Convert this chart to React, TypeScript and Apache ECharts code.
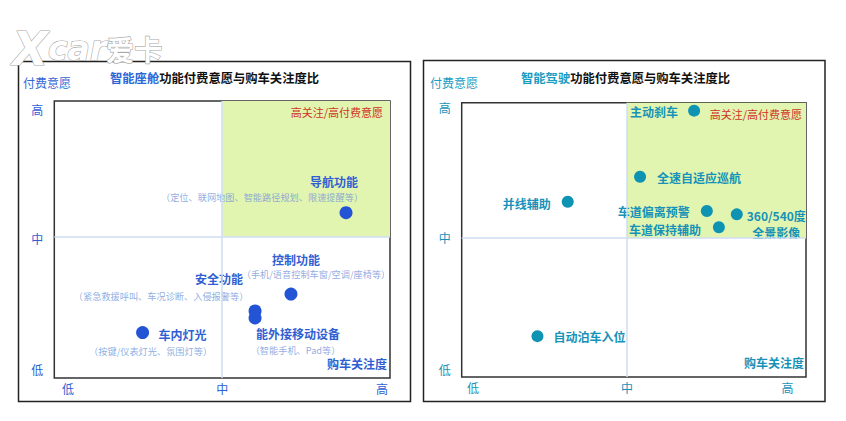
import React, { useEffect, useRef } from "react";
import * as echarts from "echarts";

// ---- data ----
const levelLabels = ["低", "中", "高"];

const cabinNames = ["导航功能", "控制功能", "安全功能", "能外接移动设备", "车内灯光"];
const cabinNotes = [
  "（定位、联网地图、智能路径规划、限速提醒等）",
  "（手机/语音控制车窗/空调/座椅等）",
  "（紧急救援呼叫、车况诊断、入侵报警等）",
  "（智能手机、Pad等）",
  "（按键/仪表灯光、氛围灯等）",
];
const cabinAttention = [86.9, 70.5, 59.8, 59.8, 26.3];
const cabinWillingness = [59.7, 30.3, 24.2, 21.7, 16.4];
const cabinMid = [50, 51];
const cabinXTicks = [4.1, 50, 97.6];
const cabinYTicks = [3.2, 50.5, 97.1];

const drivingNames = ["主动刹车", "全速自适应巡航", "并线辅助", "车道偏离预警", "360/540度\n全景影像", "车道保持辅助", "自动泊车入位"];
const drivingAttention = [67.5, 51.8, 30.8, 71.2, 79.9, 74.7, 22.0];
const drivingWillingness = [97.1, 73.0, 63.9, 60.5, 59.3, 54.6, 14.9];
const drivingMid = [48, 50.8];
const drivingXTicks = [3.3, 48, 94.6];
const drivingYTicks = [2.9, 50.7, 98.1];

// ---- layout (label offsets relative to point centre) ----
const cabinMainOffsets = [[-12, -31], [5, -35], [-36, -32], [43, 16], [40, 2]];
const cabinNoteOffsets = [[-84, -16], [25, -20], [-94, -15], [40.5, 32], [8, 18]];
const drivingOffsets = [[-40, 1], [59, 0.6], [-41, 1.6], [-53, 0.7], [39.5, 9.5], [-54, 2], [52, 0.7]];

const FONT = "'Noto Sans CJK SC', 'Noto Sans', sans-serif";
const BLUE = "#2454d6";
const BLUE_TEXT = "#2f5fd2";
const BLUE_NOTE = "#7497da";
const TEAL = "#0f93b3";
const TEAL_TEXT = "#1792b8";
const RED = "#d0321f";
const GREEN = "#e2f5b0";
const MIDLINE = "#cedcf2";

function nearestLabel(ticks: number[]) {
  return (v: number) => {
    let best = 0;
    ticks.forEach((t, i) => {
      if (Math.abs(t - v) < Math.abs(ticks[best] - v)) best = i;
    });
    return levelLabels[best];
  };
}

function axes(gridIndex: number, xt: number[], yt: number[], color: string) {
  const common = {
    gridIndex,
    type: "value" as const,
    min: 0,
    max: 100,
    splitLine: { show: false },
    axisLine: { show: false },
    axisTick: { show: false },
  };
  return {
    x: {
      ...common,
      axisLabel: {
        customValues: xt,
        formatter: nearestLabel(xt),
        color,
        fontSize: 12,
        fontFamily: FONT,
        margin: 4,
      },
    },
    y: {
      ...common,
      axisLabel: {
        customValues: yt,
        formatter: nearestLabel(yt),
        color,
        fontSize: 12,
        fontFamily: FONT,
        margin: 11,
      },
    },
  };
}

function quadrant(mid: number[]) {
  return {
    markArea: {
      silent: true,
      itemStyle: { color: GREEN },
      data: [[{ xAxis: mid[0], yAxis: mid[1] }, { xAxis: 100, yAxis: 100 }]],
    },
    markLine: {
      silent: true,
      symbol: "none",
      label: { show: false },
      lineStyle: { color: MIDLINE, width: 1.5, type: "solid" },
      data: [{ xAxis: mid[0] }, { yAxis: mid[1] }],
    },
  };
}

export default function App() {
  const ref = useRef<HTMLDivElement>(null);
  useEffect(() => {
    if (!ref.current) return;
    const chart = echarts.init(ref.current, undefined, { renderer: "svg" });
    const a1 = axes(0, cabinXTicks, cabinYTicks, BLUE_TEXT);
    const a2 = axes(1, drivingXTicks, drivingYTicks, TEAL_TEXT);

    const cabinPoints = cabinNames.map((n, i) => ({
      name: n,
      value: [cabinAttention[i], cabinWillingness[i]],
      label: {
        show: true,
        position: "inside",
        formatter: n,
        offset: cabinMainOffsets[i],
        align: "center",
        verticalAlign: "middle",
        color: BLUE_TEXT,
        fontSize: 12,
        fontWeight: "bold",
        fontFamily: FONT,
      },
    }));
    const cabinNotePoints = cabinNames.map((n, i) => ({
      name: n + "注",
      value: [cabinAttention[i], cabinWillingness[i]],
      label: {
        show: true,
        position: "inside",
        formatter: cabinNotes[i],
        offset: cabinNoteOffsets[i],
        align: "center",
        verticalAlign: "middle",
        color: BLUE_NOTE,
        fontSize: 9.2,
        fontFamily: FONT,
      },
    }));
    const drivingPoints = drivingNames.map((n, i) => ({
      name: n,
      value: [drivingAttention[i], drivingWillingness[i]],
      label: {
        show: true,
        position: "inside",
        formatter: n,
        offset: drivingOffsets[i],
        align: "center",
        verticalAlign: "middle",
        lineHeight: 17.5,
        color: TEAL_TEXT,
        fontSize: 12,
        fontWeight: "bold",
        fontFamily: FONT,
      },
    }));

    const logoStyle = { fill: "#fff", stroke: "#a8a8a8", lineWidth: 1.2, lineHeight: 38 };

    chart.setOption({
      animation: false,
      backgroundColor: "#ffffff",
      title: [
        {
          text: "{a|智能座舱}{b|功能付费意愿与购车关注度比}",
          left: 110,
          top: 72,
          padding: 0,
          textStyle: {
            rich: {
              a: { color: "#2d66d6", fontSize: 12.3, fontFamily: FONT },
              b: { color: "#111", fontSize: 12.3, fontFamily: FONT },
            },
          },
        },
        {
          text: "{a|智能驾驶}{b|功能付费意愿与购车关注度比}",
          left: 521,
          top: 72,
          padding: 0,
          textStyle: {
            rich: {
              a: { color: "#1a9cc2", fontSize: 12.3, fontFamily: FONT },
              b: { color: "#111", fontSize: 12.3, fontFamily: FONT },
            },
          },
        },
      ],
      grid: [
        { left: 54.3, top: 101, width: 335.7, height: 277, show: true, borderColor: "#333", borderWidth: 1.5, backgroundColor: "#fff" },
        { left: 461.7, top: 102.7, width: 344.3, height: 274.3, show: true, borderColor: "#333", borderWidth: 1.5, backgroundColor: "#fff" },
      ],
      xAxis: [a1.x, a2.x],
      yAxis: [a1.y, a2.y],
      graphic: [
        { type: "rect", shape: { x: 18.5, y: 61.5, width: 392, height: 340 }, style: { fill: "none", stroke: "#222", lineWidth: 1.5 }, z: 1 },
        { type: "rect", shape: { x: 423.5, y: 60.5, width: 401.5, height: 341 }, style: { fill: "none", stroke: "#222", lineWidth: 1.5 }, z: 1 },
        { type: "text", left: 23, top: 76, style: { text: "付费意愿", fill: "#3467d4", fontSize: 12, fontFamily: FONT }, z: 5 },
        { type: "text", left: 430, top: 76, style: { text: "付费意愿", fill: "#1a9cc2", fontSize: 12, fontFamily: FONT }, z: 5 },
        { type: "text", right: 463, top: 106, style: { text: "高关注/高付费意愿", fill: RED, fontSize: 11, fontFamily: FONT }, z: 50 },
        { type: "text", right: 44, top: 108, style: { text: "高关注/高付费意愿", fill: RED, fontSize: 11, fontFamily: FONT }, z: 50 },
        { type: "text", right: 459, top: 357, style: { text: "购车关注度", fill: BLUE_TEXT, fontSize: 12, fontWeight: "bold", fontFamily: FONT }, z: 50 },
        { type: "text", right: 42, top: 356, style: { text: "购车关注度", fill: TEAL_TEXT, fontSize: 12, fontWeight: "bold", fontFamily: FONT }, z: 50 },
        {
          type: "text",
          left: 12,
          top: 25,
          z: 100,
          style: {
            text: "{x|X}{c|car}{k|爱卡}",
            rich: {
              x: { ...logoStyle, fontSize: 46, fontStyle: "italic", fontWeight: "bold", fontFamily: "'DejaVu Sans', sans-serif" },
              c: { ...logoStyle, fontSize: 33, fontStyle: "italic", fontWeight: "bold", fontFamily: "'DejaVu Sans', sans-serif" },
              k: { ...logoStyle, fontSize: 28, fontWeight: "bold", fontFamily: FONT },
            },
          },
        },
      ],
      series: [
        {
          type: "scatter",
          xAxisIndex: 0,
          yAxisIndex: 0,
          symbolSize: 13,
          itemStyle: { color: BLUE, opacity: 1 },
          data: cabinPoints,
          z: 3,
          ...quadrant(cabinMid),
        },
        {
          type: "scatter",
          xAxisIndex: 0,
          yAxisIndex: 0,
          symbolSize: 1,
          itemStyle: { color: "rgba(0,0,0,0)" },
          data: cabinNotePoints,
          z: 4,
        },
        {
          type: "scatter",
          xAxisIndex: 1,
          yAxisIndex: 1,
          symbolSize: 12,
          itemStyle: { color: TEAL, opacity: 1 },
          data: drivingPoints,
          z: 3,
          ...quadrant(drivingMid),
        },
      ],
    });
    return () => chart.dispose();
  }, []);
  return (
    <div
      ref={ref}
      style={{ position: "fixed", left: 0, top: 0, width: 846, height: 421 }}
    />
  );
}
